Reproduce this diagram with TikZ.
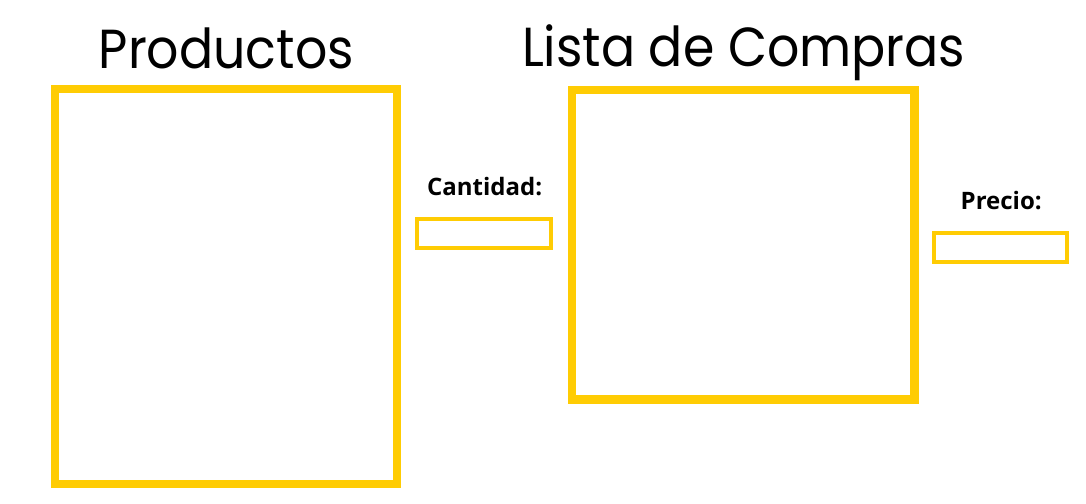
\documentclass[tikz,border=0pt]{standalone}
\usepackage{fontspec}
\newfontfamily\titlefont{Poppins}
\newfontfamily\labelfont{Open Sans}
\definecolor{boxyellow}{HTML}{FFCC03}
\begin{document}
\begin{tikzpicture}[x=1pt,y=-1pt,
  bigbox/.style={draw=boxyellow, rectangle, inner sep=0pt, outer sep=0pt, line width=8.3pt},
  smallbox/.style={draw=boxyellow, rectangle, inner sep=0pt, outer sep=0pt, line width=4pt},
  title/.style={anchor=base, inner sep=0pt, xscale=0.92, font=\titlefont\fontsize{55}{55}\selectfont},
  lbl/.style={anchor=base, inner sep=0pt, font=\labelfont\bfseries\fontsize{24}{24}\selectfont}]
\useasboundingbox[fill=white] (0,0) rectangle (1086,503);
\node[title] (tprod) at (226.3,68.3) {Productos};
\node[title] (tlista) at (743.7,66.7) {Lista de Compras};
\node[bigbox, minimum width=342pt, minimum height=395pt] (prod) at (226,286.5) {};
\node[bigbox, minimum width=342.8pt, minimum height=309.3pt] (lista) at (743.1,244.7) {};
\node[lbl] (tcant) at (484.7,195.7) {Cantidad:};
\node[smallbox, minimum width=133.4pt, minimum height=28.7pt] (cant) at (484,233.65) {};
\node[lbl] (tprec) at (1001.2,209.3) {Precio:};
\node[smallbox, minimum width=133pt, minimum height=29.3pt] (prec) at (1000.8,247.65) {};
\end{tikzpicture}
\end{document}
